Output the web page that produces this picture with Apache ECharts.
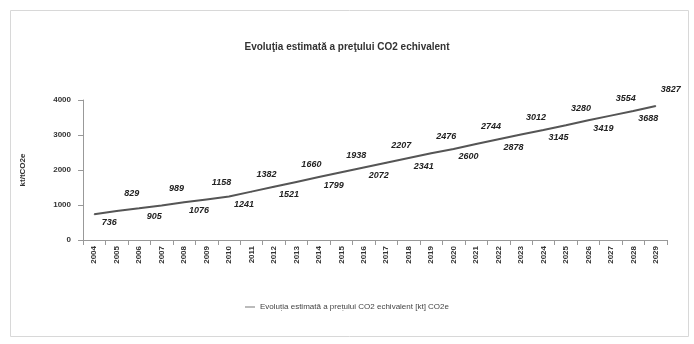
<!DOCTYPE html>
<html>
<head>
<meta charset="utf-8">
<script src="https://cdn.jsdelivr.net/npm/echarts@6/dist/echarts.min.js"></script>
<style>html,body{margin:0;padding:0;background:#fff;}#c{width:694px;height:344px;}</style>
</head>
<body>
<div id="c"></div>
<script>
const years = ['2004','2005','2006','2007','2008','2009','2010','2011','2012','2013','2014','2015','2016','2017','2018','2019','2020','2021','2022','2023','2024','2025','2026','2027','2028','2029'];
const values = [736, 829, 905, 989, 1076, 1158, 1241, 1382, 1521, 1660, 1799, 1938, 2072, 2207, 2341, 2476, 2600, 2744, 2878, 3012, 3145, 3280, 3419, 3554, 3688, 3827];
const yTicks = [0, 1000, 2000, 3000, 4000];
const seriesName = 'Evoluția estimată a prețului CO2 echivalent [kt] CO2e';

const chart = echarts.init(document.getElementById('c'));
const data = values.map((v, i) => ({
  value: v,
  label: i % 2 === 0
    ? { show: true, position: 'bottom', distance: 3 }
    : { show: true, position: 'top', distance: 12 }
}));
chart.setOption({
  backgroundColor: '#fff',
  animation: false,
  graphic: [{
    type: 'rect', left: 8, top: 8,
    shape: { width: 678, height: 326 },
    style: { fill: 'none', stroke: '#d8d8d8', lineWidth: 1 }
  }],
  title: {
    text: 'Evoluţia estimată a preţului CO2 echivalent',
    left: 'center', top: 37,
    textStyle: { fontSize: 10, fontWeight: 'bold', color: '#333', fontFamily: 'Liberation Sans' }
  },
  legend: {
    bottom: 28, left: 'center',
    itemWidth: 10, itemHeight: 2,
    icon: 'rect',
    itemStyle: { color: '#bbb' },
    textStyle: { fontSize: 8, color: '#444', fontFamily: 'Liberation Sans' },
    data: [seriesName]
  },
  grid: { left: 83, right: 27, top: 100, bottom: 104 },
  xAxis: {
    type: 'category', data: years, boundaryGap: true,
    axisLine: { lineStyle: { color: '#999' } },
    axisTick: { show: true, lineStyle: { color: '#999' } },
    axisLabel: { rotate: 90, fontSize: 8, fontWeight: 'bold', color: '#333', margin: 6, fontFamily: 'Liberation Sans' }
  },
  yAxis: {
    type: 'value', min: yTicks[0], max: yTicks[yTicks.length - 1], interval: 1000,
    name: 'kt/tCO2e', nameLocation: 'middle', nameRotate: 90, nameGap: 56,
    nameTextStyle: { fontSize: 8, fontWeight: 'bold', color: '#333', fontFamily: 'Liberation Sans' },
    axisLine: { show: true, lineStyle: { color: '#999' } },
    axisTick: { show: true, lineStyle: { color: '#999' } },
    splitLine: { show: false },
    axisLabel: { fontSize: 8, fontWeight: 'bold', color: '#333', margin: 12, fontFamily: 'Liberation Sans', formatter: v => String(v) }
  },
  series: [{
    name: seriesName, type: 'line', data: data,
    symbol: 'circle', symbolSize: 1, showSymbol: true,
    lineStyle: { color: '#555', width: 2 },
    itemStyle: { color: '#555' },
    label: { show: true, fontSize: 9, fontWeight: 'bold', fontStyle: 'italic', color: '#222', fontFamily: 'Liberation Sans' },
    labelLayout: { hideOverlap: false, dx: 15 }
  }]
});
</script>
</body>
</html>
